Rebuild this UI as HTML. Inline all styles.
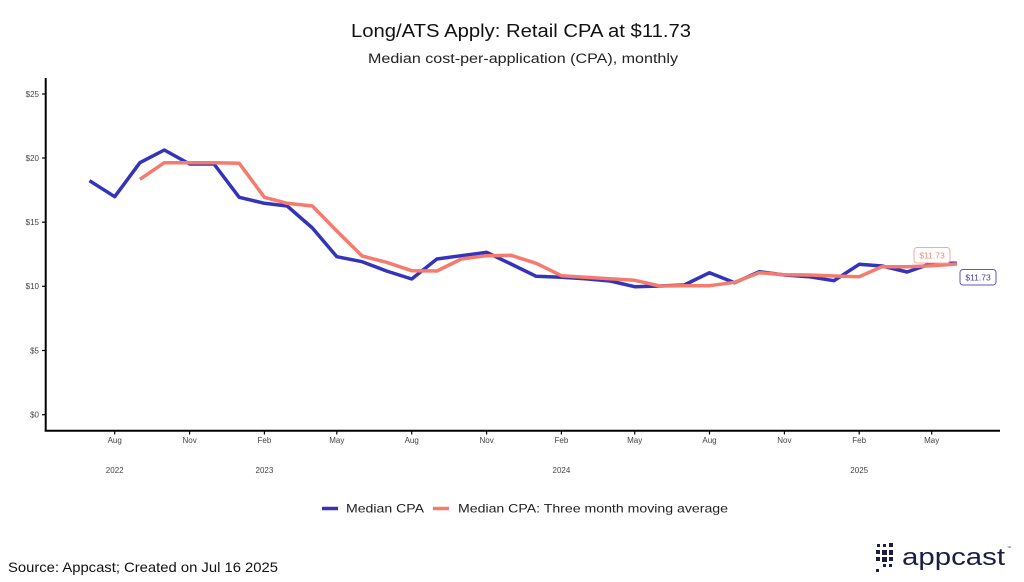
<!DOCTYPE html>
<html>
<head>
<meta charset="utf-8">
<style>
  html,body{margin:0;padding:0;background:#fff;}
  body{width:1024px;height:582px;overflow:hidden;}
  svg{display:block;}
  text{font-family:"Liberation Sans", sans-serif;}
</style>
</head>
<body>
<svg width="1024" height="582" viewBox="0 0 1024 582" xmlns="http://www.w3.org/2000/svg">
  <rect width="1024" height="582" fill="#fff"/>
  <!-- Title -->
  <text x="521" y="37" text-anchor="middle" font-size="18" fill="#111" textLength="340" lengthAdjust="spacingAndGlyphs">Long/ATS Apply: Retail CPA at $11.73</text>
  <text x="523" y="63" text-anchor="middle" font-size="13.5" fill="#222" textLength="310" lengthAdjust="spacingAndGlyphs">Median cost-per-application (CPA), monthly</text>

  <!-- Axes -->
  <line x1="45.7" y1="78" x2="45.7" y2="431.5" stroke="#000" stroke-width="2"/>
  <line x1="44.7" y1="430.7" x2="1000" y2="430.7" stroke="#000" stroke-width="2"/>

  <!-- Y ticks -->
  <g stroke="#000" stroke-width="1.2">
    <line x1="42" y1="94" x2="45" y2="94"/>
    <line x1="42" y1="158" x2="45" y2="158"/>
    <line x1="42" y1="222.2" x2="45" y2="222.2"/>
    <line x1="42" y1="286.3" x2="45" y2="286.3"/>
    <line x1="42" y1="350.5" x2="45" y2="350.5"/>
    <line x1="42" y1="414.7" x2="45" y2="414.7"/>
  </g>
  <g font-size="8" fill="#444" text-anchor="end">
    <text x="39" y="97">$25</text>
    <text x="39" y="161">$20</text>
    <text x="39" y="225">$15</text>
    <text x="39" y="289">$10</text>
    <text x="39" y="353.5">$5</text>
    <text x="39" y="417.7">$0</text>
  </g>

  <!-- X ticks -->
  <g stroke="#000" stroke-width="1.2">
    <line x1="114.7" y1="431" x2="114.7" y2="434.5"/>
    <line x1="189.6" y1="431" x2="189.6" y2="434.5"/>
    <line x1="264.4" y1="431" x2="264.4" y2="434.5"/>
    <line x1="336.8" y1="431" x2="336.8" y2="434.5"/>
    <line x1="411.7" y1="431" x2="411.7" y2="434.5"/>
    <line x1="486.6" y1="431" x2="486.6" y2="434.5"/>
    <line x1="561.4" y1="431" x2="561.4" y2="434.5"/>
    <line x1="634.7" y1="431" x2="634.7" y2="434.5"/>
    <line x1="709.5" y1="431" x2="709.5" y2="434.5"/>
    <line x1="784.4" y1="431" x2="784.4" y2="434.5"/>
    <line x1="859.2" y1="431" x2="859.2" y2="434.5"/>
    <line x1="931.7" y1="431" x2="931.7" y2="434.5"/>
  </g>
  <g font-size="8" fill="#444" text-anchor="middle">
    <text x="114.7" y="443">Aug</text>
    <text x="189.6" y="443">Nov</text>
    <text x="264.4" y="443">Feb</text>
    <text x="336.8" y="443">May</text>
    <text x="411.7" y="443">Aug</text>
    <text x="486.6" y="443">Nov</text>
    <text x="561.4" y="443">Feb</text>
    <text x="634.7" y="443">May</text>
    <text x="709.5" y="443">Aug</text>
    <text x="784.4" y="443">Nov</text>
    <text x="859.2" y="443">Feb</text>
    <text x="931.7" y="443">May</text>
    <text x="114.7" y="473">2022</text>
    <text x="264.4" y="473">2023</text>
    <text x="561.4" y="473">2024</text>
    <text x="859.2" y="473">2025</text>
  </g>

  <!-- Series: Median CPA (blue) -->
  <polyline fill="none" stroke="#3333bb" stroke-width="3.5" stroke-linejoin="round" stroke-linecap="butt"
    points="89.5,180.7 114.7,196.7 139.9,162.7 164.3,150 189.6,164 214.0,164 239.2,197.3 264.4,203.3 287.2,206 312.4,228 336.8,256.7 362.1,261.7 386.5,271 411.7,279 436.9,259 461.3,255.7 486.6,252.3 511.0,264 536.2,276.3 561.4,277.3 585.0,278.7 610.2,281 634.7,286.7 659.9,286 684.3,285 709.5,272.7 734.7,282.7 759.2,271.7 784.4,275 808.8,276.7 834.0,280.7 859.2,264.3 882.0,266 907.2,272 931.7,263.3 956.9,263.3"/>
  <!-- Series: 3-month moving average (orange) -->
  <polyline fill="none" stroke="#f47b6d" stroke-width="3.5" stroke-linejoin="round" stroke-linecap="butt"
    points="139.9,179.3 164.3,162.7 189.6,162.7 214.0,162.7 239.2,163.3 264.4,197.3 287.2,203.3 312.4,206 336.8,231 362.1,256 386.5,262.3 411.7,270.7 436.9,271 461.3,259 486.6,255.7 511.0,255.3 536.2,263.3 561.4,275.7 585.0,277.3 610.2,278.7 634.7,280.3 659.9,286 684.3,285.7 709.5,285.7 734.7,282.3 759.2,272.7 784.4,274.7 808.8,275 834.0,276 859.2,276.7 882.0,266.7 907.2,266.7 931.7,265.7 956.9,264"/>

  <!-- End labels -->
  <rect x="914" y="247.5" width="36" height="15.5" rx="3" fill="#fff" stroke="#f5aaa2" stroke-width="1"/>
  <text x="932" y="258.5" text-anchor="middle" font-size="8.5" fill="#f08a7e">$11.73</text>
  <rect x="960" y="269.5" width="36" height="15.5" rx="3" fill="#fff" stroke="#5a5ac4" stroke-width="1"/>
  <text x="978" y="280.5" text-anchor="middle" font-size="8.5" fill="#3e3eb0">$11.73</text>

  <!-- Legend -->
  <line x1="322" y1="508.5" x2="338" y2="508.5" stroke="#3333bb" stroke-width="3.5"/>
  <text x="346" y="512.5" font-size="12" fill="#222" textLength="78" lengthAdjust="spacingAndGlyphs">Median CPA</text>
  <line x1="433" y1="508.5" x2="449" y2="508.5" stroke="#f47b6d" stroke-width="3.5"/>
  <text x="458" y="512.5" font-size="12" fill="#222" textLength="270" lengthAdjust="spacingAndGlyphs">Median CPA: Three month moving average</text>

  <!-- Source -->
  <text x="8" y="572" font-size="14" fill="#111" textLength="270" lengthAdjust="spacingAndGlyphs">Source: Appcast; Created on Jul 16 2025</text>

  <!-- Logo -->
  <g fill="#1c1c44">
    <rect x="877" y="544" width="3" height="3"/>
    <rect x="883" y="544" width="3" height="3"/>
    <rect x="889" y="543" width="4" height="4"/>
    <rect x="876" y="550" width="4" height="4"/>
    <rect x="882" y="550" width="5" height="5"/>
    <rect x="889" y="550" width="4" height="5"/>
    <rect x="876" y="557" width="4" height="4"/>
    <rect x="882" y="557" width="5" height="5"/>
    <rect x="889" y="557" width="4" height="4"/>
    <rect x="883" y="564" width="3" height="3"/>
    <rect x="876" y="569" width="3" height="3"/>
    <rect x="889" y="564" width="3" height="3"/>
  </g>
  <text x="902" y="565" font-size="24" fill="#1c1c44" textLength="103" lengthAdjust="spacingAndGlyphs">appcast</text>
  <text x="1007" y="549" font-size="4" fill="#1c1c44">™</text>
</svg>
</body>
</html>
